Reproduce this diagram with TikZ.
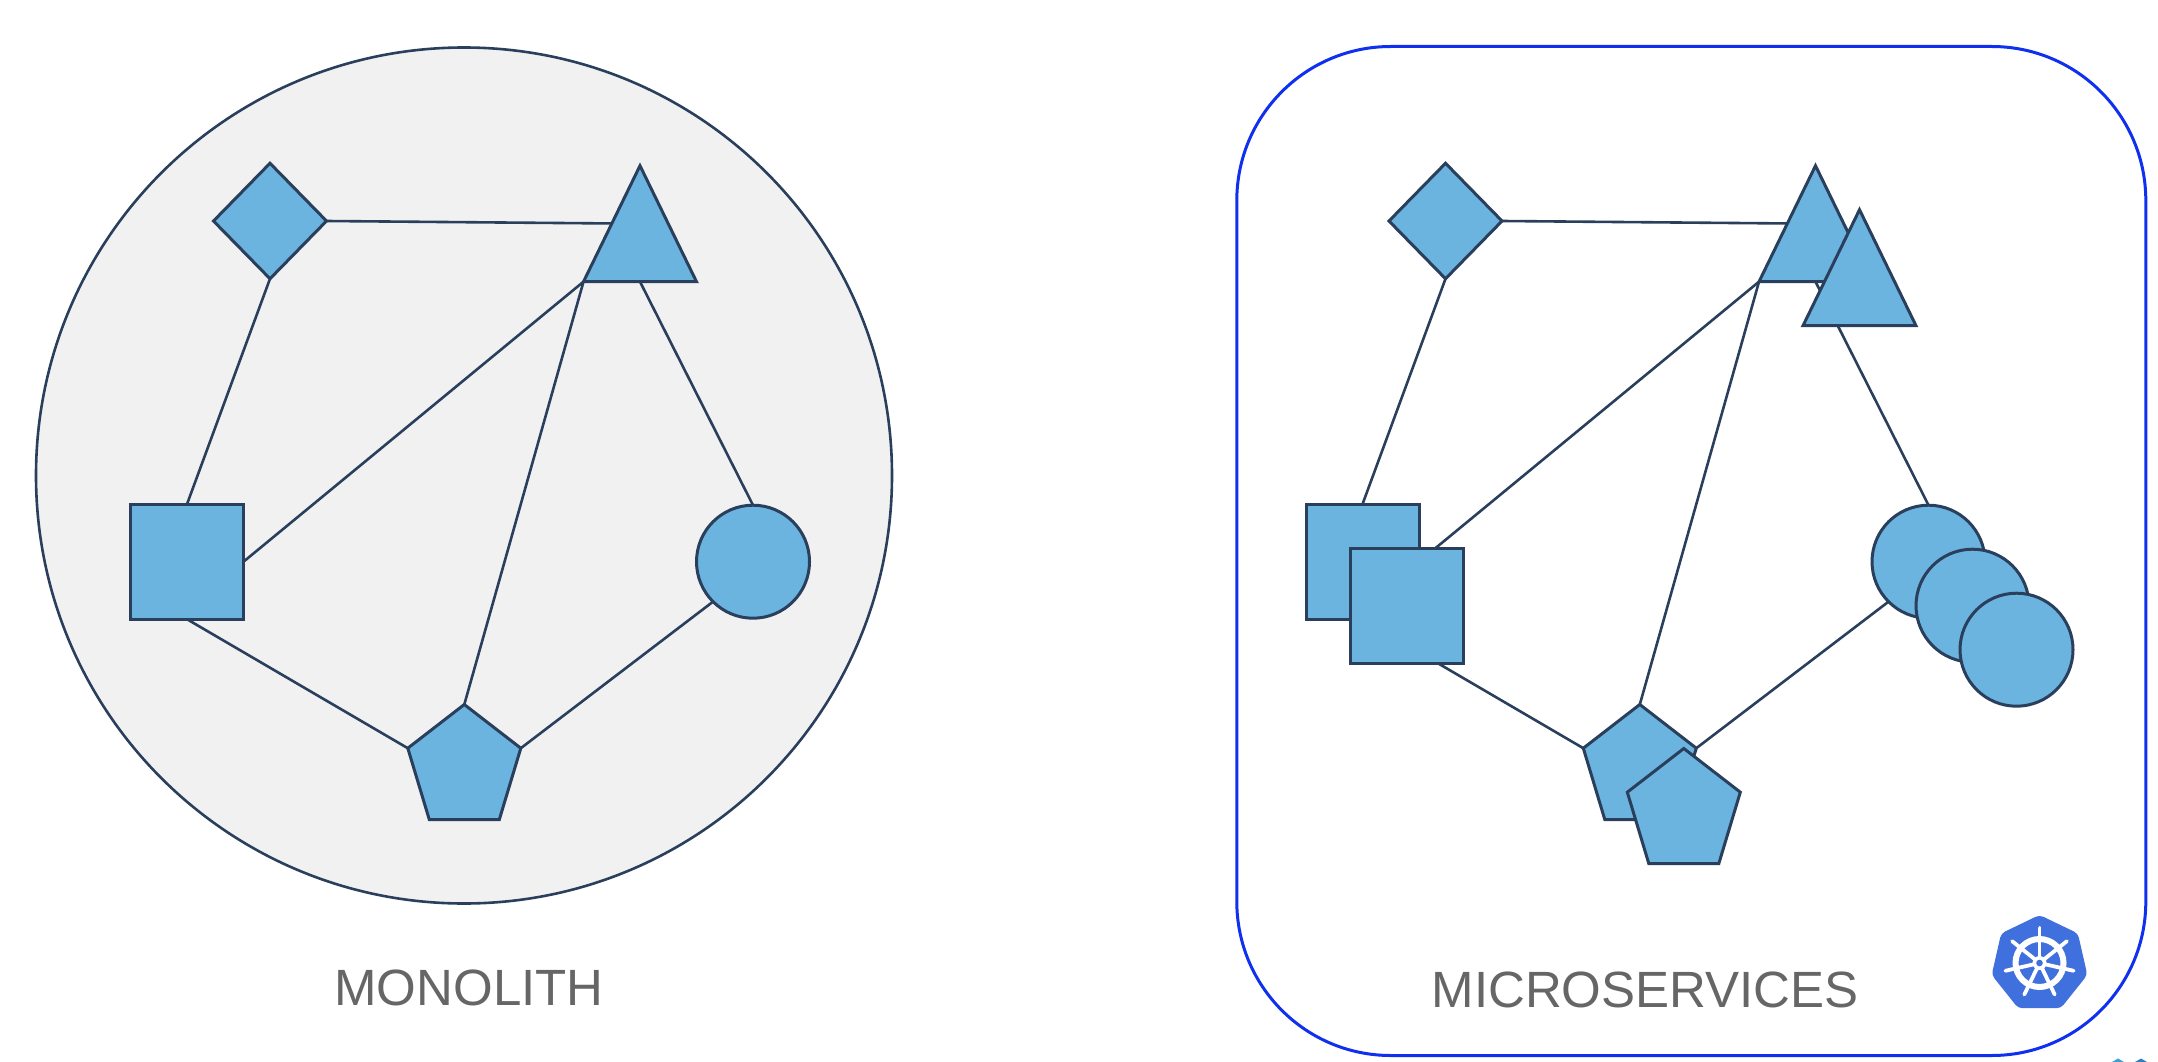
\documentclass[tikz,border=0pt]{standalone}
\usepackage{fontspec}
\setmainfont{Liberation Sans}
\usetikzlibrary{shapes.geometric}
\definecolor{ink}{HTML}{2A3F5C}
\definecolor{svcfill}{HTML}{6CB4E0}
\definecolor{monofill}{HTML}{F1F1F2}
\definecolor{frameblue}{HTML}{1030F0}
\definecolor{labelgrey}{HTML}{666666}
\definecolor{kubeblue}{HTML}{4070DD}
\definecolor{tipa}{HTML}{3AA0D8}
\definecolor{tipb}{HTML}{2A80C0}
\pgfdeclarelayer{under}
\pgfdeclarelayer{edges}
\pgfsetlayers{under,edges,main}
\newdimen\rkxa \newdimen\rkya \newdimen\rkxb \newdimen\rkyb \newdimen\rkh \newdimen\rkw
\makeatletter
\pgfdeclareshape{uptri}{%
  \inheritsavedanchors[from=rectangle]%
  \inheritanchorborder[from=rectangle]%
  \inheritanchor[from=rectangle]{center}%
  \inheritanchor[from=rectangle]{north}%
  \inheritanchor[from=rectangle]{south}%
  \inheritanchor[from=rectangle]{south west}%
  \inheritanchor[from=rectangle]{south east}%
  \backgroundpath{%
    \southwest \rkxa=\pgf@x \rkya=\pgf@y
    \northeast \rkxb=\pgf@x \rkyb=\pgf@y
    \pgfpathmoveto{\pgfqpoint{\rkxa}{\rkya}}%
    \pgfpathlineto{\pgfqpoint{\rkxb}{\rkya}}%
    \pgfpathlineto{\pgfqpoint{\dimexpr(\rkxa+\rkxb)/2\relax}{\rkyb}}%
    \pgfpathclose
  }%
}
\pgfdeclareshape{tallpent}{%
  \inheritsavedanchors[from=rectangle]%
  \inheritanchorborder[from=rectangle]%
  \inheritanchor[from=rectangle]{center}%
  \inheritanchor[from=rectangle]{north}%
  \inheritanchor[from=rectangle]{south}%
  \anchor{shoulder west}{\southwest \rkxa=\pgf@x \rkya=\pgf@y
    \northeast \rkh=\pgf@y \advance\rkh by -\rkya
    \advance\pgf@y by -0.38\rkh \pgf@x=\rkxa}%
  \anchor{shoulder east}{\southwest \rkya=\pgf@y
    \northeast \rkh=\pgf@y \advance\rkh by -\rkya
    \advance\pgf@y by -0.38\rkh}%
  \backgroundpath{%
    \southwest \rkxa=\pgf@x \rkya=\pgf@y
    \northeast \rkxb=\pgf@x \rkyb=\pgf@y
    \rkh=\rkyb \advance\rkh by -\rkya
    \rkw=\rkxb \advance\rkw by -\rkxa
    \pgfpathmoveto{\pgfqpoint{\dimexpr(\rkxa+\rkxb)/2\relax}{\rkyb}}%
    \pgfpathlineto{\pgfqpoint{\rkxb}{\dimexpr\rkyb-0.38\rkh\relax}}%
    \pgfpathlineto{\pgfqpoint{\dimexpr\rkxb-0.19\rkw\relax}{\rkya}}%
    \pgfpathlineto{\pgfqpoint{\dimexpr\rkxa+0.19\rkw\relax}{\rkya}}%
    \pgfpathlineto{\pgfqpoint{\rkxa}{\dimexpr\rkyb-0.38\rkh\relax}}%
    \pgfpathclose
  }%
}
\makeatother
\tikzset{
  svc/.style={draw=ink,fill=svcfill,line width=3pt,inner sep=0pt,outer sep=0pt},
  diam/.style={svc,shape=diamond,shape aspect=1,minimum width=113pt,minimum height=115.5pt},
  tri/.style={svc,shape=uptri,minimum width=113pt,minimum height=116pt},
  sqr/.style={svc,shape=rectangle,minimum width=113pt,minimum height=115pt},
  circ/.style={svc,shape=circle,minimum size=113pt},
  pent/.style={svc,shape=tallpent,minimum width=113pt,minimum height=115pt},
  link/.style={draw=ink,line width=2.6pt},
  caption/.style={text=labelgrey,font=\fontsize{51}{51}\selectfont,anchor=base,inner sep=0pt},
}
\begin{document}
\begin{tikzpicture}[x=1pt,y=-1pt]
\useasboundingbox (0,0) rectangle (2158,1062);
% containers
\begin{pgfonlayer}{under}
  \node[shape=circle,draw=ink,fill=monofill,line width=2.6pt,minimum size=856pt,inner sep=0pt,outer sep=0pt] (mono) at (464,475.5) {};
  \node[shape=rectangle,draw=frameblue,line width=3pt,rounded corners=154pt,minimum width=909pt,minimum height=1009pt,inner sep=0pt,outer sep=0pt] (frame) at (1691.3,551) {};
\end{pgfonlayer}
% monolith
\node[diam] (d) at (270,221) {};
\node[tri]  (t) at (640,223.7) {};
\node[sqr]  (q) at (187,561.7) {};
\node[circ] (c) at (753,561.7) {};
\node[pent] (p) at (464.3,762) {};
% microservices, originals
\node[diam] (d1) at (1445.5,221) {};
\node[tri]  (t1) at (1815.5,223.7) {};
\node[sqr]  (q1) at (1362.5,561.7) {};
\node[circ] (c1) at (1928.5,561.7) {};
\node[pent] (p1) at (1639.8,762) {};
% microservices, replicas
\node[tri]  (t2) at (1859.5,267.7) {};
\node[sqr]  (q2) at (1406.5,605.7) {};
\node[circ] (c2) at (1972.5,605.7) {};
\node[circ] (c3) at (2016.5,649.7) {};
\node[pent] (p2) at (1683.8,806) {};
% connectors
\begin{pgfonlayer}{edges}
  \foreach \n in {,1}{
    \draw[link] (d\n.east) -- (t\n.center);
    \draw[link] (d\n.south) -- (q\n.north);
    \draw[link] (t\n.south west) -- (q\n.east);
    \draw[link] (t\n.south west) -- (p\n.north);
    \draw[link] (t\n.south) -- (c\n.north);
    \draw[link] (q\n.south) -- (p\n.shoulder west);
    \draw[link] (p\n.shoulder east) -- (c\n.225);
  }
\end{pgfonlayer}
% captions
\node[caption] (monolabel) at (469,1005) {MONOLITH};
\node[caption] (microlabel) at (1645,1007) {MICROSERVICES};
% kubernetes logo
\node[shape=regular polygon,regular polygon sides=7,fill=kubeblue,draw=kubeblue,line width=1pt,rounded corners=4pt,minimum size=97pt,inner sep=0pt,outer sep=0pt] (kube) at (2039.5,964) {};
\coordinate (hub) at (2039.5,963);
\draw[white,line width=6pt] (hub) circle[radius=24];
\foreach \k in {0,...,6}
  \draw[white,line width=3.8pt,line cap=round] (hub) -- ++({-90+\k*51.43}:35);
\fill[white] (hub) circle[radius=7];
\fill[kubeblue] (hub) circle[radius=3.3];
% tips cut by the lower edge
\fill[tipa] (2112,1062) -- (2118,1058.5) -- (2124,1062) -- cycle;
\fill[tipb] (2135,1062) -- (2141,1058.5) -- (2147,1062) -- cycle;
\end{tikzpicture}
\end{document}
